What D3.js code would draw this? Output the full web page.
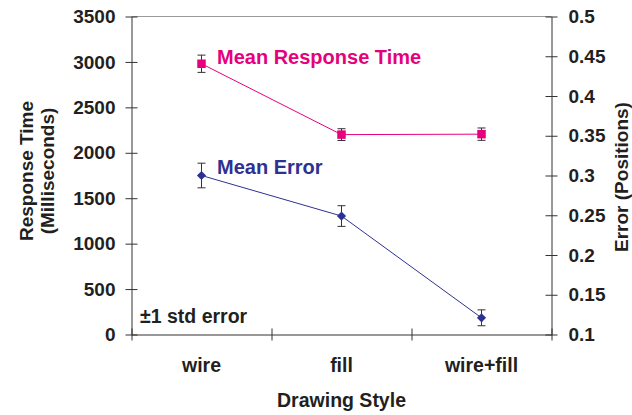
<!DOCTYPE html>
<html>
<head>
<meta charset="utf-8">
<script src="https://cdn.jsdelivr.net/npm/d3@7"></script>
<style>
  body { margin: 0; background: #fff; }
  text { font-family: "Liberation Sans", Arial, sans-serif; font-weight: bold; fill: #231f20; }
</style>
</head>
<body>
<div id="chart"></div>
<script>
var width = 632,
    height = 415,
    margin = {top: 16.5, bottom: 80.5, left: 131.5, right: 80.5};

// data
var styles = ["wire", "fill", "wire+fill"];
var meanTime = [2980, 2200, 2205];      // ms
var timeErr = [95, 65, 68];
var meanError = [0.30, 0.249, 0.121];   // positions
var errorErr = [0.0155, 0.013, 0.010];
var leftTicks = [0, 500, 1000, 1500, 2000, 2500, 3000, 3500];
var rightTicks = [0.1, 0.15, 0.2, 0.25, 0.3, 0.35, 0.4, 0.45, 0.5];

var pink = "#e6007e",
    blue = "#2e3192";

var x0 = margin.left, x1 = width - margin.right,
    y0 = height - margin.bottom, y1 = margin.top;

var svg = d3.select("#chart").append("svg")
  .attr("width", width)
  .attr("height", height);

var x = d3.scaleBand().domain(styles).range([x0, x1]);
var xEdge = d3.scaleLinear().domain([0, styles.length]).range([x0, x1]);
var yL = d3.scaleLinear().domain([0, 3500]).range([y0, y1]);
var yR = d3.scaleLinear().domain([0.1, 0.5]).range([y0, y1]);

function cx(d) { return x(d) + x.bandwidth() / 2; }

// top frame line
svg.append("line")
  .attr("x1", x0).attr("x2", x1)
  .attr("y1", y1).attr("y2", y1)
  .style("stroke", "#9a9a9a");

// left axis
var gl = svg.append("g")
  .attr("transform", "translate(" + x0 + ",0)")
  .call(d3.axisLeft(yL).tickValues(leftTicks).tickSize(6).tickPadding(10).tickSizeOuter(0)
    .tickFormat(d3.format("d")));
gl.selectAll(".tick line").attr("x1", -6).attr("x2", 6);

// right axis
var gr = svg.append("g")
  .attr("transform", "translate(" + x1 + ",0)")
  .call(d3.axisRight(yR).tickValues(rightTicks).tickSize(6).tickPadding(11).tickSizeOuter(0)
    .tickFormat(d3.format(".2~f")));
gr.selectAll(".tick line").attr("x1", -6).attr("x2", 6);

// bottom axis: ticks between categories
var gb = svg.append("g")
  .attr("transform", "translate(0," + y0 + ")")
  .call(d3.axisBottom(xEdge).ticks(styles.length).tickFormat("").tickSize(6).tickSizeOuter(0));
gb.selectAll(".tick line").attr("y1", -6).attr("y2", 6);

// category labels
var gc = svg.append("g")
  .attr("transform", "translate(0," + y0 + ")")
  .call(d3.axisBottom(x).tickSize(0).tickPadding(24));
gc.select(".domain").remove();

svg.selectAll(".domain").style("stroke", "#333");
svg.selectAll(".tick line").style("stroke", "#333");
svg.selectAll(".tick text")
  .style("font-family", "'Liberation Sans', Arial, sans-serif")
  .style("font-weight", "bold")
  .style("font-size", "19px")
  .style("fill", "#231f20");
gc.selectAll(".tick text").attr("dy", null).attr("y", 37.5).style("font-size", "19.5px");

// axis titles
function title(tx, ty, rot, size, str) {
  svg.append("text")
    .attr("transform", "translate(" + tx + "," + ty + ")" + (rot ? " rotate(" + rot + ")" : ""))
    .attr("text-anchor", "middle")
    .style("font-weight", "bold")
    .style("font-size", size)
    .text(str);
}
title(33, 171, -90, "19px", "Response Time");
title(54, 171, -90, "19px", "(Milliseconds)");
title(628, 177, -90, "19px", "Error (Positions)");
title((x0 + x1) / 2, 407, 0, "19.5px", "Drawing Style");

// series
function drawSeries(vals, errs, scale, color, marker) {
  var pts = styles.map(function(s, i) { return {s: s, v: vals[i], e: errs[i]}; });

  svg.append("path")
    .datum(pts)
    .attr("d", d3.line().x(function(d) { return cx(d.s); }).y(function(d) { return scale(d.v); }))
    .style("fill", "none")
    .style("stroke", color)
    .style("stroke-width", 1);

  var eb = svg.append("g").selectAll("g").data(pts).enter().append("g")
    .style("stroke", "#333").style("stroke-width", 1);
  eb.append("line")
    .attr("x1", function(d) { return cx(d.s); }).attr("x2", function(d) { return cx(d.s); })
    .attr("y1", function(d) { return scale(d.v - d.e); })
    .attr("y2", function(d) { return scale(d.v + d.e); });
  [-1, 1].forEach(function(k) {
    eb.append("line")
      .attr("x1", function(d) { return cx(d.s) - 4; }).attr("x2", function(d) { return cx(d.s) + 4; })
      .attr("y1", function(d) { return scale(d.v + k * d.e); })
      .attr("y2", function(d) { return scale(d.v + k * d.e); });
  });

  svg.append("g").selectAll("path").data(pts).enter().append("path")
    .attr("d", d3.symbol().type(d3.symbolSquare).size(marker.size))
    .attr("transform", function(d) {
      return "translate(" + cx(d.s) + "," + scale(d.v) + ") rotate(" + marker.rot + ")";
    })
    .style("fill", color);
}

drawSeries(meanTime, timeErr, yL, pink, {size: 72, rot: 0});
drawSeries(meanError, errorErr, yR, blue, {size: 42, rot: 45});

// labels
function label(lx, ly, size, color, str) {
  svg.append("text").attr("x", lx).attr("y", ly)
    .style("font-weight", "bold")
    .style("font-size", size).style("fill", color).text(str);
}
label(217, 64, "20px", pink, "Mean Response Time");
label(217, 174, "20px", blue, "Mean Error");
label(140, 323, "19.5px", "#231f20", "\u00b11 std error");
</script>
</body>
</html>
